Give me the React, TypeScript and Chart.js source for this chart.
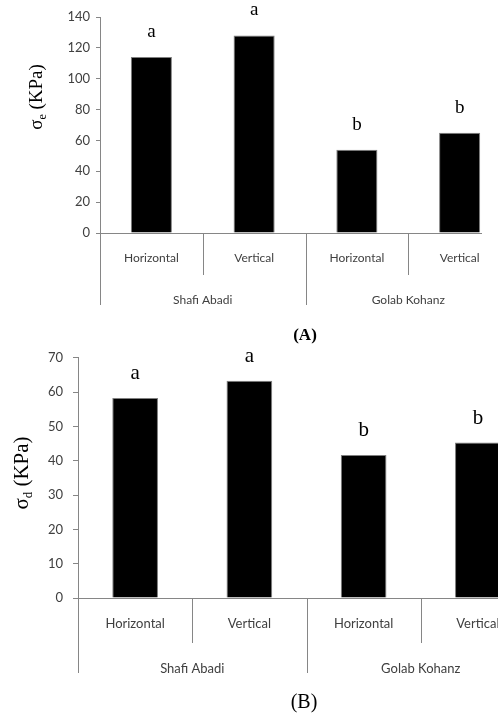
import React, { useEffect, useRef } from "react";
import { Chart, registerables } from "chart.js";
Chart.register(...registerables);

const categories = ["Horizontal", "Vertical", "Horizontal", "Vertical"];
const groups = ["Shafi Abadi", "Golab Kohanz"];
const sigmaE = [114, 128, 54, 65];
const sigmaD = [58.3, 63.3, 41.7, 45.3];
const lettersE = ["a", "a", "b", "b"];
const lettersD = ["a", "a", "b", "b"];
const yMaxE = 140;
const yStepE = 20;
const yMaxD = 70;
const yStepD = 10;

type PanelCfg = {
  values: number[];
  letters: string[];
  yMax: number;
  yStep: number;
  sub: string;
  caption: string;
  top: number;
  width: number;
  height: number;
  clipWidth: number;
  yAxisWidth: number;
  padTop: number;
  xAxisHeight: number;
  tickFont: number;
  tickPad: number;
  tickLen: number;
  catFont: number;
  innerLen: number;
  groupLen: number;
  catY: number;
  groupY: number;
  letterFont: number;
  letterOffset: number;
  titleX: number;
  titleY: number;
  titleSize: number;
  capX: number;
  capY: number;
  capFont: string;
};

const GRAY = "#868686";
const TEXT = "#404040";
const SANS = "Lato, 'Open Sans', sans-serif";
const SERIF = "'Liberation Serif', 'DejaVu Serif', serif";

function Panel({ cfg }: { cfg: PanelCfg }) {
  const ref = useRef<HTMLCanvasElement | null>(null);
  useEffect(() => {
    if (!ref.current) return;
    const overlay = {
      id: "overlay",
      afterDraw(chart: any) {
        const ctx = chart.ctx as CanvasRenderingContext2D;
        const xs = chart.scales.x;
        const area = chart.chartArea;
        const w = (xs.right - xs.left) / categories.length;
        const base = area.bottom;
        ctx.save();
        ctx.strokeStyle = GRAY;
        ctx.lineWidth = 1;
        for (let i = 0; i <= categories.length; i++) {
          const x = Math.round(xs.left + i * w) + 0.5;
          const len = i % 2 === 0 ? cfg.groupLen : cfg.innerLen;
          ctx.beginPath();
          ctx.moveTo(x, base);
          ctx.lineTo(x, base + len);
          ctx.stroke();
        }
        ctx.fillStyle = TEXT;
        ctx.textAlign = "center";
        ctx.textBaseline = "middle";
        ctx.font = `${cfg.catFont}px ${SANS}`;
        categories.forEach((c, i) => {
          ctx.fillText(c, xs.getPixelForValue(i), base + cfg.catY);
        });
        groups.forEach((g, gi) => {
          const cx = xs.left + (gi * 2 + 1) * w;
          ctx.fillText(g, cx, base + cfg.groupY);
        });
        const meta = chart.getDatasetMeta(0);
        ctx.fillStyle = "#000";
        ctx.font = `${cfg.letterFont}px ${SERIF}`;
        meta.data.forEach((bar: any, i: number) => {
          ctx.fillText(cfg.letters[i], bar.x, bar.y - cfg.letterOffset);
        });
        ctx.save();
        ctx.translate(cfg.titleX, cfg.titleY);
        ctx.rotate(-Math.PI / 2);
        const S = cfg.titleSize;
        const fMain = `${S}px ${SERIF}`;
        const fSub = `${Math.round(S * 0.62)}px ${SERIF}`;
        ctx.font = fMain;
        const wSig = ctx.measureText("σ").width;
        const rest = " (KPa)";
        const wRest = ctx.measureText(rest).width;
        ctx.font = fSub;
        const wSub = ctx.measureText(cfg.sub).width;
        const total = wSig + wSub + wRest;
        let sx = -total / 2;
        ctx.textAlign = "left";
        ctx.textBaseline = "alphabetic";
        const bl = S * 0.32;
        ctx.font = fMain;
        ctx.fillText("σ", sx, bl);
        sx += wSig;
        ctx.font = fSub;
        ctx.fillText(cfg.sub, sx, bl + S * 0.2);
        sx += wSub;
        ctx.font = fMain;
        ctx.fillText(rest, sx, bl);
        ctx.restore();
        ctx.textAlign = "center";
        ctx.textBaseline = "middle";
        ctx.font = cfg.capFont;
        ctx.fillText(cfg.caption, cfg.capX, cfg.capY);
        ctx.restore();
      },
    };
    const chart = new Chart(ref.current, {
      type: "bar",
      data: {
        labels: categories,
        datasets: [
          {
            data: cfg.values,
            backgroundColor: "#000000",
            borderColor: "#7f7f7f",
            borderWidth: 1,
            barPercentage: 0.4,
            categoryPercentage: 1,
          },
        ],
      },
      options: {
        responsive: false,
        animation: false,
        layout: { padding: { top: cfg.padTop, left: 0, right: 0, bottom: 0 } },
        plugins: { legend: { display: false }, tooltip: { enabled: false } },
        scales: {
          x: {
            type: "category",
            offset: true,
            grid: { display: false },
            border: { display: true, color: GRAY },
            ticks: { display: false },
            afterFit: (s: any) => {
              s.height = cfg.xAxisHeight;
            },
          },
          y: {
            min: 0,
            max: cfg.yMax,
            ticks: {
              stepSize: cfg.yStep,
              font: { family: SANS, size: cfg.tickFont },
              color: TEXT,
              padding: cfg.tickPad,
            },
            grid: {
              drawOnChartArea: false,
              drawTicks: true,
              tickLength: cfg.tickLen,
              color: GRAY,
            },
            border: { display: true, color: GRAY },
            afterFit: (s: any) => {
              s.width = cfg.yAxisWidth;
            },
          },
        },
      },
      plugins: [overlay],
    } as any);
    return () => chart.destroy();
  }, []);
  return (
    <div
      style={{
        position: "absolute",
        left: 0,
        top: cfg.top,
        width: cfg.clipWidth,
        height: cfg.height,
        overflow: "hidden",
      }}
    >
      <canvas
        ref={ref}
        width={cfg.width}
        height={cfg.height}
        style={{ display: "block", width: cfg.width, height: cfg.height }}
      />
    </div>
  );
}

const panelA: PanelCfg = {
  values: sigmaE,
  letters: lettersE,
  yMax: yMaxE,
  yStep: yStepE,
  sub: "e",
  caption: "(A)",
  top: 0,
  width: 511,
  height: 345,
  clipWidth: 482,
  yAxisWidth: 100,
  padTop: 17,
  xAxisHeight: 112,
  tickFont: 13,
  tickPad: 6,
  tickLen: 4,
  catFont: 12,
  innerLen: 42,
  groupLen: 72,
  catY: 25,
  groupY: 67,
  letterFont: 19,
  letterOffset: 25,
  titleX: 36,
  titleY: 97,
  titleSize: 19,
  capX: 305,
  capY: 336,
  capFont: `bold 17px ${SERIF}`,
};

const panelB: PanelCfg = {
  values: sigmaD,
  letters: lettersD,
  yMax: yMaxD,
  yStep: yStepD,
  sub: "d",
  caption: "(B)",
  top: 340,
  width: 535,
  height: 373,
  clipWidth: 498,
  yAxisWidth: 78,
  padTop: 17,
  xAxisHeight: 115,
  tickFont: 13,
  tickPad: 10,
  tickLen: 5,
  catFont: 13,
  innerLen: 45,
  groupLen: 75,
  catY: 26,
  groupY: 71,
  letterFont: 21,
  letterOffset: 24,
  titleX: 21,
  titleY: 133,
  titleSize: 21,
  capX: 304,
  capY: 363,
  capFont: `20px ${SERIF}`,
};

export default function App() {
  return (
    <div
      style={{
        position: "fixed",
        left: 0,
        top: 0,
        width: 498,
        height: 713,
        overflow: "hidden",
        background: "#fff",
      }}
    >
      <Panel cfg={panelA} />
      <Panel cfg={panelB} />
    </div>
  );
}
